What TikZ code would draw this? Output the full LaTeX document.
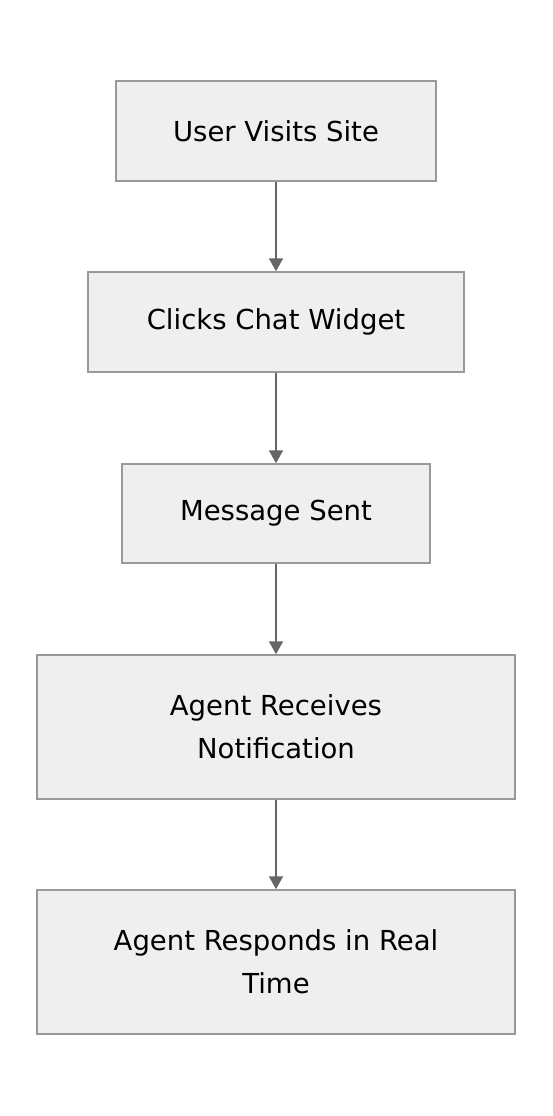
\documentclass[tikz,border=0pt]{standalone}
\usepackage{fontspec}
\setmainfont{DejaVu Sans}
\usetikzlibrary{arrows.meta}
\definecolor{boxfill}{HTML}{EFEFEF}
\definecolor{boxline}{HTML}{999999}
\definecolor{arrowcol}{HTML}{666666}
\tikzset{
  stepbox/.style={draw=boxline, fill=boxfill, line width=1.5pt, inner sep=0pt, align=center,
    font=\fontsize{27.5}{43}\selectfont},
  flow/.style={draw=arrowcol, line width=2pt, -{Triangle[length=13pt,width=14pt]}}
}
\begin{document}
\begin{tikzpicture}[x=1pt,y=-1pt]
\useasboundingbox (0,0) rectangle (552,1116);
\node[stepbox, minimum width=320pt, minimum height=100pt] (a) at (276,131) {User Visits Site};
\node[stepbox, minimum width=376pt, minimum height=100pt] (b) at (276,322) {Clicks Chat Widget};
\node[stepbox, minimum width=308pt, minimum height=99pt] (c) at (276,513.5) {Message Sent};
\node[stepbox, minimum width=478pt, minimum height=144pt] (d) at (276,727) {Agent Receives\\Notification};
\node[stepbox, minimum width=478pt, minimum height=144pt] (e) at (276,962) {Agent Responds in Real\\Time};
\draw[flow] (a) -- (b);
\draw[flow] (b) -- (c);
\draw[flow] (c) -- (d);
\draw[flow] (d) -- (e);
\end{tikzpicture}
\end{document}
